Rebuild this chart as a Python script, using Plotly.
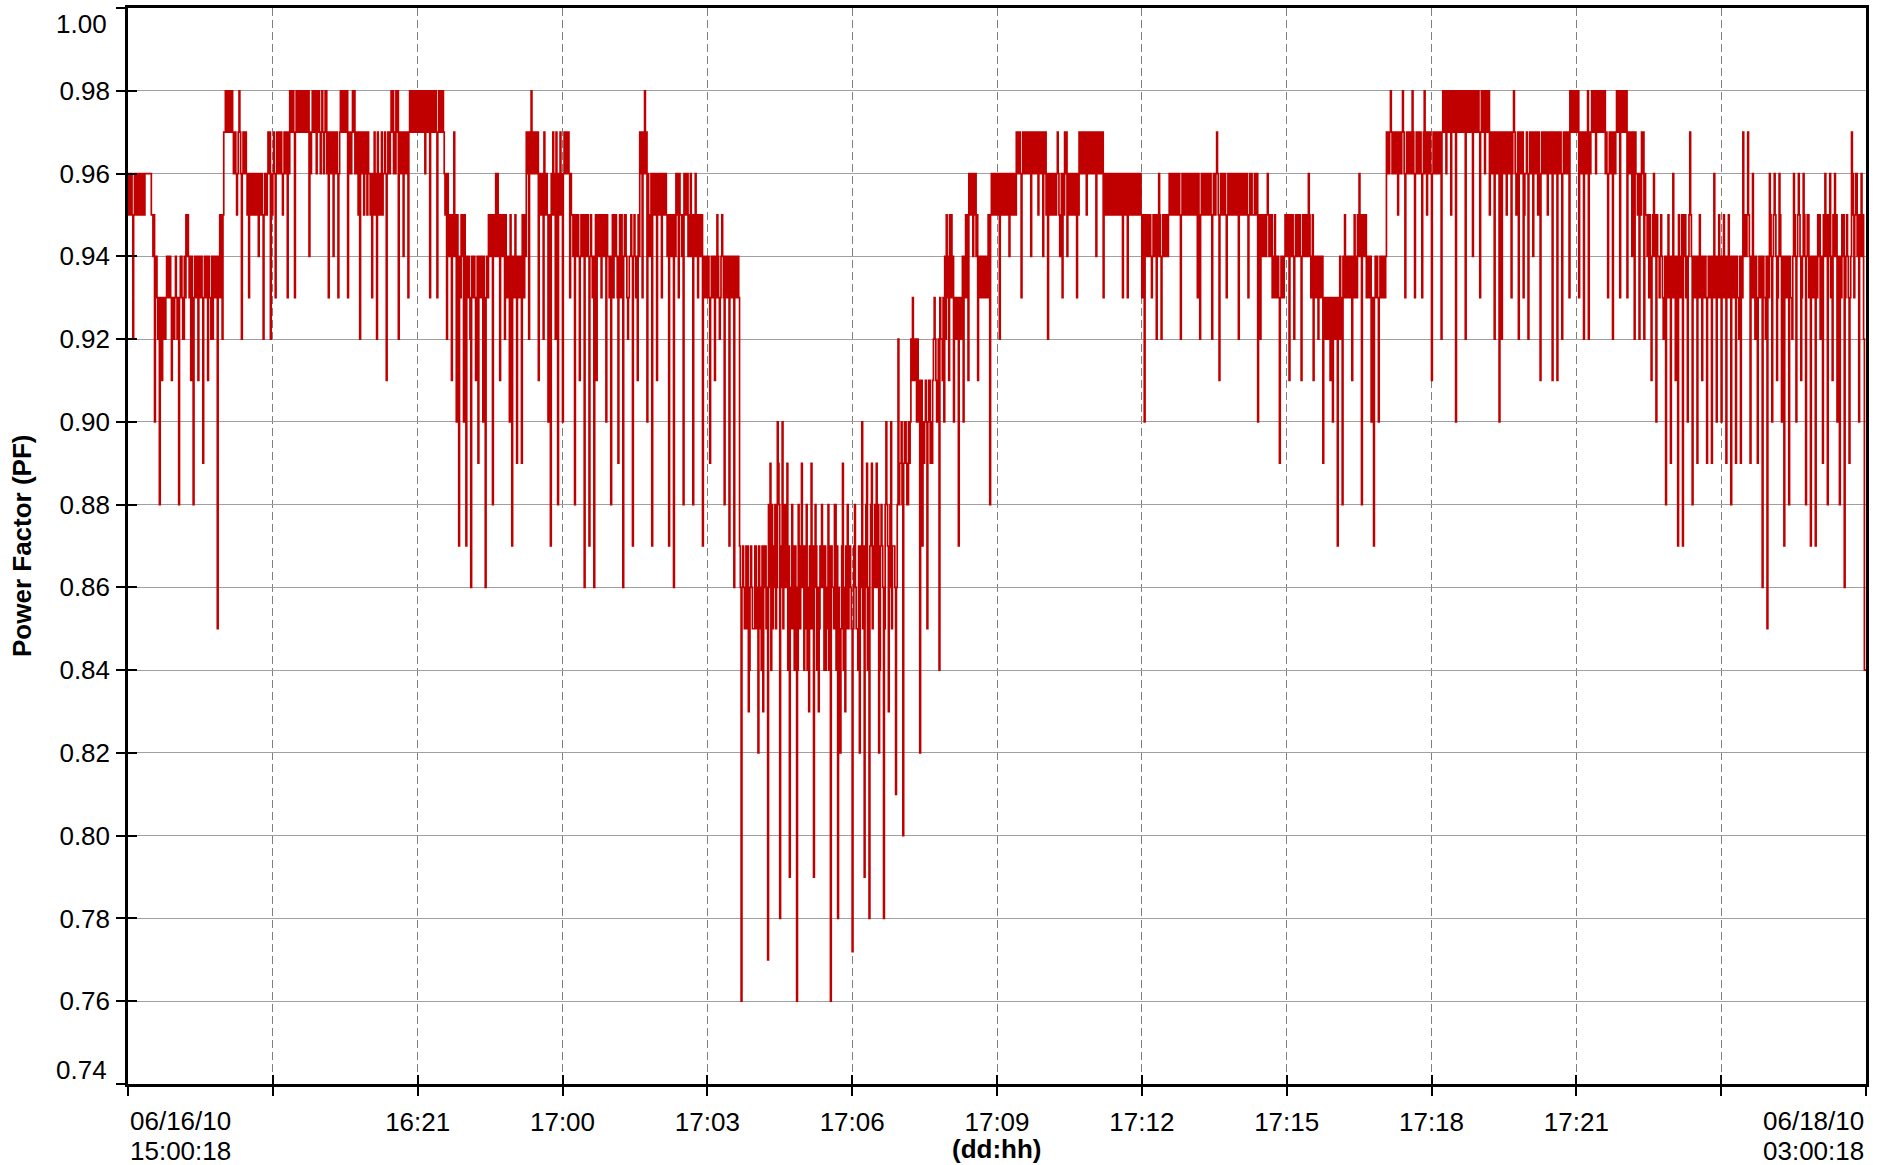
import pandas as pd
import plotly.graph_objects as go

# Power factor readings, one per minute, kept per 3-hour block.
# In every 3-minute slot: "a" = 1st reading, "b" = 2nd reading, "c" = 3rd reading.
pf_a01 = [.96,.95,.92,.96,.95,.96,.95,.96,.96,.96, .95,.90,.93,.88,.91,.93,.94,.93,.91,.92,
          .93,.88,.94,.92,.95,.94,.91,.88,.94,.91, .93,.89,.94,.91,.93,.92,.94,.85,.95,.92,
          .97,.98,.97,.98,.96,.95,.98,.92,.97,.96, .93,.96,.95,.96,.94,.95,.92,.96,.97,.92]
pf_b01 = [.95,.96,.95,.95,.96,.95,.96,.96,.96,.96, .94,.93,.92,.93,.93,.92,.93,.94,.93,.93,
          .92,.93,.93,.94,.94,.93,.94,.93,.93,.94, .94,.93,.93,.94,.92,.94,.93,.93,.93,.95,
          .98,.97,.98,.97,.97,.96,.97,.96,.96,.95, .96,.95,.96,.95,.96,.96,.95,.95,.96,.96]
pf_c01 = [.96,.95,.96,.96,.95,.96,.95,.96,.96,.95, .95,.94,.93,.92,.92,.93,.94,.93,.92,.94,
          .93,.94,.92,.93,.95,.94,.93,.94,.94,.93, .93,.94,.94,.93,.94,.93,.94,.94,.95,.97,
          .97,.98,.97,.96,.96,.97,.96,.97,.97,.96, .95,.96,.95,.96,.95,.95,.96,.96,.97,.95]

pf_a02 = [.96,.93,.97,.96,.95,.97,.93,.98,.97,.93, .98,.97,.98,.97,.98,.94,.97,.98,.96,.98,
          .97,.96,.98,.93,.97,.94,.96,.93,.98,.97, .98,.93,.97,.98,.96,.97,.92,.96,.97,.95,
          .96,.93,.97,.92,.95,.97,.96,.91,.97,.98, .96,.98,.92,.97,.94,.96,.93,.98,.97,.98]
pf_b02 = [.97,.96,.96,.97,.96,.96,.97,.97,.98,.97, .97,.98,.97,.98,.97,.97,.98,.97,.97,.97,
          .98,.97,.96,.97,.96,.97,.97,.96,.97,.98, .97,.97,.96,.97,.97,.95,.97,.97,.96,.97,
          .95,.96,.95,.97,.96,.95,.97,.96,.96,.97, .97,.97,.96,.96,.97,.97,.97,.97,.98,.97]
pf_c02 = [.96,.97,.97,.96,.97,.97,.96,.98,.97,.98, .98,.97,.98,.97,.98,.96,.97,.98,.98,.96,
          .97,.98,.97,.96,.97,.96,.96,.97,.98,.97, .98,.96,.97,.98,.96,.97,.96,.95,.97,.96,
          .96,.95,.96,.96,.95,.96,.96,.97,.97,.98, .96,.98,.97,.97,.96,.96,.98,.98,.97,.98]

pf_a03 = [.98,.97,.98,.96,.98,.93,.98,.97,.93,.98, .97,.96,.92,.95,.91,.97,.90,.87,.95,.90,
          .87,.94,.86,.93,.91,.89,.94,.90,.86,.93, .95,.88,.94,.96,.91,.95,.92,.94,.90,.87,
          .93,.89,.94,.89,.93,.97,.92,.98,.96,.97, .91,.96,.92,.95,.90,.87,.97,.92,.88,.97]
pf_b03 = [.97,.98,.97,.97,.97,.97,.97,.98,.97,.97, .98,.95,.96,.94,.95,.94,.95,.94,.94,.95,
          .93,.93,.94,.94,.93,.94,.93,.94,.93,.95, .94,.95,.96,.94,.95,.94,.95,.93,.95,.94,
          .95,.94,.93,.95,.95,.96,.97,.96,.97,.96, .96,.95,.97,.96,.95,.96,.95,.97,.96,.96]
pf_c03 = [.98,.97,.98,.98,.98,.98,.98,.97,.98,.98, .97,.96,.94,.95,.94,.95,.94,.93,.95,.94,
          .94,.92,.93,.93,.94,.93,.94,.93,.94,.94, .95,.94,.94,.95,.94,.95,.93,.94,.94,.93,
          .94,.93,.94,.94,.94,.97,.96,.97,.96,.97, .95,.96,.95,.95,.94,.95,.96,.96,.95,.95]

pf_a04 = [.90,.97,.96,.93,.95,.88,.94,.91,.95,.86, .94,.87,.94,.86,.91,.95,.93,.95,.90,.94,
          .88,.93,.95,.89,.93,.86,.95,.92,.94,.87, .94,.91,.97,.93,.98,.90,.94,.87,.96,.91,
          .96,.93,.96,.95,.87,.95,.86,.96,.93,.95, .88,.96,.94,.96,.88,.96,.93,.95,.87,.94]
pf_b04 = [.96,.96,.97,.96,.94,.95,.95,.94,.94,.95, .95,.94,.93,.94,.95,.94,.95,.94,.95,.93,
          .94,.95,.94,.94,.95,.94,.94,.93,.95,.94, .93,.95,.96,.97,.96,.96,.95,.96,.95,.96,
          .95,.96,.95,.94,.95,.94,.95,.95,.96,.94, .96,.95,.95,.94,.95,.94,.95,.94,.93,.93]
pf_c04 = [.97,.97,.96,.95,.95,.94,.94,.95,.95,.94, .94,.95,.94,.95,.94,.95,.94,.95,.94,.94,
          .95,.94,.93,.95,.94,.95,.93,.94,.94,.95, .94,.94,.97,.96,.97,.95,.96,.95,.96,.95,
          .96,.95,.96,.95,.94,.95,.94,.96,.95,.95, .95,.96,.94,.95,.94,.95,.94,.95,.94,.94]

pf_a05 = [.93,.89,.94,.91,.95,.92,.95,.88,.94,.87, .94,.86,.94,.93,.76,.86,.87,.83,.87,.85,
          .87,.82,.86,.83,.87,.77,.89,.85,.88,.90, .78,.90,.86,.89,.79,.88,.84,.76,.87,.89,
          .84,.88,.83,.89,.79,.87,.83,.86,.87,.84, .88,.76,.86,.88,.78,.82,.89,.83,.88,.87]
pf_b05 = [.94,.93,.93,.94,.94,.93,.94,.94,.93,.94, .93,.94,.93,.87,.86,.85,.85,.84,.86,.85,
          .85,.87,.84,.86,.85,.88,.84,.86,.85,.89, .86,.85,.88,.84,.86,.85,.87,.84,.85,.86,
          .85,.84,.87,.85,.86,.84,.85,.88,.84,.85, .84,.87,.85,.84,.86,.85,.84,.87,.85,.86]
pf_c05 = [.93,.94,.94,.93,.93,.94,.93,.93,.94,.93, .94,.93,.94,.86,.87,.86,.87,.86,.85,.87,
          .86,.85,.87,.87,.86,.86,.88,.87,.86,.88, .87,.88,.86,.87,.85,.87,.86,.88,.86,.87,
          .87,.86,.85,.87,.88,.86,.87,.86,.87,.86, .87,.86,.88,.87,.85,.87,.86,.85,.87,.85]

pf_a06 = [.772,.88,.85,.82,.90,.79,.89,.78,.89,.86, .89,.82,.88,.78,.90,.83,.90,.87,.81,.92,
          .89,.80,.90,.88,.90,.93,.91,.92,.82,.87, .90,.85,.91,.89,.93,.90,.84,.92,.90,.95,
          .91,.95,.90,.93,.87,.93,.90,.95,.91,.96, .94,.96,.91,.94,.93,.94,.93,.88,.95,.96]
pf_b06 = [.85,.86,.84,.87,.85,.86,.84,.87,.85,.88, .86,.84,.87,.85,.88,.86,.85,.87,.86,.88,
          .90,.89,.89,.90,.92,.91,.92,.90,.89,.90, .91,.90,.89,.91,.92,.91,.93,.91,.94,.93,
          .95,.93,.93,.92,.93,.92,.94,.93,.96,.95, .96,.94,.94,.93,.94,.93,.95,.95,.96,.95]
pf_c06 = [.87,.85,.87,.86,.87,.88,.86,.88,.87,.86, .88,.87,.86,.88,.87,.88,.87,.86,.88,.89,
          .88,.90,.88,.89,.91,.92,.90,.91,.91,.89, .90,.91,.90,.92,.91,.92,.92,.93,.92,.94,
          .93,.94,.92,.93,.92,.94,.93,.95,.95,.96, .95,.95,.93,.94,.93,.94,.94,.96,.95,.96]

pf_a07 = [.96,.92,.96,.95,.96,.94,.96,.95,.97,.96, .93,.97,.96,.97,.94,.96,.97,.95,.97,.94,
          .97,.92,.96,.95,.96,.97,.94,.93,.97,.94, .96,.95,.96,.93,.97,.96,.97,.95,.97,.96,
          .97,.94,.96,.97,.93,.96,.95,.96,.95,.96, .95,.96,.93,.96,.93,.95,.96,.95,.96,.95]
pf_b07 = [.95,.96,.95,.96,.95,.96,.95,.96,.96,.97, .96,.96,.97,.96,.96,.97,.96,.96,.96,.96,
          .95,.96,.95,.96,.95,.96,.95,.96,.96,.96, .95,.96,.95,.96,.96,.97,.96,.97,.96,.97,
          .96,.96,.97,.96,.96,.95,.96,.95,.96,.95, .96,.95,.96,.95,.96,.96,.95,.96,.95,.96]
pf_c07 = [.96,.95,.96,.95,.96,.95,.96,.95,.97,.96, .97,.97,.96,.97,.97,.96,.97,.97,.97,.97,
          .96,.95,.96,.95,.96,.95,.96,.95,.97,.95, .96,.95,.96,.95,.97,.96,.97,.96,.97,.96,
          .97,.97,.96,.97,.95,.96,.95,.96,.95,.96, .95,.96,.95,.96,.95,.95,.96,.95,.96,.95]

pf_a08 = [.93,.90,.95,.94,.93,.95,.92,.96,.92,.95, .94,.95,.96,.95,.96,.95,.92,.96,.95,.96,
          .95,.96,.95,.93,.92,.96,.95,.96,.95,.92, .96,.97,.91,.96,.95,.93,.95,.96,.95,.96,
          .92,.95,.96,.95,.93,.95,.95,.95,.90,.92, .94,.95,.96,.95,.93,.95,.93,.89,.93,.94]
pf_b08 = [.94,.95,.94,.95,.94,.94,.95,.95,.94,.94, .95,.96,.95,.96,.95,.96,.95,.95,.96,.95,
          .96,.95,.96,.96,.95,.95,.96,.95,.96,.95, .95,.96,.95,.95,.96,.95,.96,.95,.96,.95,
          .95,.96,.95,.96,.95,.96,.95,.95,.95,.95, .95,.94,.95,.94,.94,.93,.94,.93,.94,.95]
pf_c08 = [.95,.94,.95,.94,.95,.95,.94,.94,.95,.95, .94,.95,.96,.95,.96,.95,.96,.96,.95,.96,
          .95,.96,.95,.95,.96,.96,.95,.96,.95,.96, .96,.95,.96,.96,.95,.96,.95,.96,.95,.96,
          .96,.95,.96,.95,.96,.95,.96,.96,.94,.94, .94,.95,.94,.95,.93,.94,.93,.94,.93,.94]

pf_a09 = [.95,.91,.94,.92,.95,.94,.91,.95,.94,.96, .93,.91,.94,.92,.94,.89,.93,.92,.91,.90,
          .93,.87,.94,.88,.95,.93,.94,.91,.95,.93, .96,.88,.95,.93,.94,.90,.87,.93,.90,.94,
          .93,.94,.97,.98,.96,.97,.95,.97,.98,.93, .97,.96,.98,.93,.97,.96,.93,.98,.95,.96]
pf_b09 = [.94,.95,.95,.94,.94,.95,.94,.94,.95,.95, .94,.94,.93,.94,.93,.93,.92,.93,.93,.93,
          .92,.93,.93,.94,.93,.94,.93,.94,.94,.95, .94,.95,.94,.94,.93,.93,.93,.94,.93,.93,
          .94,.97,.96,.97,.97,.96,.97,.96,.97,.96, .96,.97,.97,.96,.96,.97,.96,.96,.97,.97]
pf_c09 = [.95,.94,.94,.95,.95,.94,.95,.95,.94,.94, .95,.93,.94,.93,.94,.92,.93,.92,.92,.92,
          .93,.92,.92,.93,.94,.93,.94,.93,.93,.94, .95,.94,.95,.93,.94,.92,.94,.93,.94,.94,
          .93,.96,.97,.96,.96,.97,.96,.97,.96,.97, .97,.96,.96,.97,.97,.96,.97,.97,.96,.96]

pf_a10 = [.91,.97,.96,.97,.92,.98,.96,.98,.95,.98, .90,.98,.97,.98,.92,.98,.97,.94,.98,.97,
          .93,.98,.96,.98,.95,.97,.92,.97,.90,.92, .97,.95,.97,.93,.98,.95,.92,.97,.93,.96,
          .92,.97,.94,.97,.95,.91,.96,.97,.95,.97, .91,.97,.91,.96,.92,.97,.96,.93,.98,.97]
pf_b10 = [.96,.96,.97,.96,.97,.97,.98,.97,.97,.97, .98,.97,.98,.97,.98,.97,.98,.98,.97,.98,
          .97,.97,.97,.97,.96,.96,.97,.96,.96,.96, .96,.97,.96,.96,.97,.96,.96,.96,.95,.97,
          .96,.96,.97,.96,.97,.96,.97,.96,.97,.96, .97,.96,.97,.97,.96,.96,.97,.98,.97,.98]
pf_c10 = [.97,.97,.96,.97,.98,.98,.97,.98,.98,.98, .97,.98,.97,.98,.97,.98,.97,.97,.98,.97,
          .98,.98,.98,.98,.97,.97,.96,.97,.97,.97, .97,.96,.97,.97,.96,.97,.97,.97,.96,.96,
          .97,.97,.96,.97,.96,.97,.96,.97,.96,.97, .96,.97,.96,.96,.97,.97,.96,.97,.98,.97]

pf_a11 = [.98,.93,.97,.92,.96,.92,.97,.98,.96,.98, .97,.98,.96,.93,.97,.92,.96,.98,.93,.97,
          .98,.93,.97,.94,.92,.96,.92,.97,.92,.95, .93,.91,.96,.90,.94,.95,.92,.88,.95,.89,
          .96,.91,.87,.93,.87,.95,.90,.97,.88,.94, .89,.95,.91,.93,.89,.94,.89,.96,.90,.95]
pf_b11 = [.97,.97,.96,.97,.97,.97,.98,.97,.98,.97, .98,.97,.97,.96,.96,.97,.97,.97,.98,.98,
          .97,.97,.96,.96,.97,.95,.96,.96,.96,.94, .95,.94,.94,.95,.93,.94,.93,.94,.93,.94,
          .93,.94,.95,.94,.95,.93,.94,.95,.94,.93, .94,.93,.94,.94,.93,.93,.94,.93,.94,.93]
pf_c11 = [.98,.96,.97,.96,.98,.96,.97,.98,.97,.98, .97,.98,.96,.97,.97,.96,.98,.98,.97,.97,
          .98,.96,.97,.97,.96,.96,.95,.97,.95,.95, .94,.95,.95,.94,.94,.93,.94,.93,.94,.93,
          .94,.93,.94,.95,.94,.94,.95,.94,.93,.94, .93,.94,.93,.93,.94,.94,.93,.94,.93,.94]

pf_a12 = [.90,.95,.89,.95,.88,.94,.89,.93,.89,.97, .95,.97,.89,.96,.92,.89,.94,.86,.93,.85,
          .96,.90,.96,.91,.96,.90,.87,.94,.88,.93, .96,.90,.96,.91,.96,.88,.95,.87,.94,.87,
          .95,.92,.89,.96,.88,.96,.91,.96,.90,.88, .95,.86,.95,.89,.97,.93,.96,.90,.96,.92]
pf_b12 = [.94,.93,.94,.93,.94,.93,.94,.92,.94,.95, .94,.95,.94,.93,.94,.93,.93,.94,.92,.94,
          .95,.94,.95,.93,.95,.93,.94,.93,.94,.92, .95,.94,.95,.93,.95,.94,.93,.94,.93,.94,
          .94,.93,.95,.94,.95,.93,.95,.94,.93,.94, .94,.93,.94,.93,.96,.95,.94,.95,.94,.84]
pf_c12 = [.93,.94,.93,.94,.93,.94,.93,.94,.93,.94, .95,.94,.93,.94,.93,.94,.94,.93,.94,.93,
          .94,.95,.94,.94,.94,.94,.93,.94,.93,.94, .94,.95,.94,.94,.94,.95,.94,.93,.94,.93,
          .95,.94,.94,.95,.94,.94,.94,.95,.94,.93, .95,.94,.93,.94,.95,.96,.95,.94,.95,.84]
pf_last = [.84]

blocks = [(pf_a01, pf_b01, pf_c01), (pf_a02, pf_b02, pf_c02), (pf_a03, pf_b03, pf_c03),
          (pf_a04, pf_b04, pf_c04), (pf_a05, pf_b05, pf_c05), (pf_a06, pf_b06, pf_c06),
          (pf_a07, pf_b07, pf_c07), (pf_a08, pf_b08, pf_c08), (pf_a09, pf_b09, pf_c09),
          (pf_a10, pf_b10, pf_c10), (pf_a11, pf_b11, pf_c11), (pf_a12, pf_b12, pf_c12)]
pf = []
for blk_a, blk_b, blk_c in blocks:
    for va, vb, vc in zip(blk_a, blk_b, blk_c):
        pf.extend([va, vb, vc])
pf += pf_last

start = pd.Timestamp("2010-06-16 15:00:18")
end = pd.Timestamp("2010-06-18 03:00:18")
times = pd.date_range(start, periods=len(pf), freq="60s")

tick_times = pd.date_range(start, end, freq="3h")
tick_labels = ["", "", "16:21", "17:00", "17:03", "17:06", "17:09", "17:12",
               "17:15", "17:18", "17:21", "", ""]
y_ticks = [0.74, 0.76, 0.78, 0.80, 0.82, 0.84, 0.86, 0.88, 0.90, 0.92, 0.94, 0.96, 0.98, 1.00]
y_labels = [""] + ["%.2f" % v for v in y_ticks[1:-1]] + [""]

FONT = "Liberation Sans, Arial, sans-serif"

fig = go.Figure()
fig.add_trace(go.Scatter(x=times, y=pf, mode="lines",
                         line=dict(color="#C00000", width=1.7, shape="hv"),
                         showlegend=False, hoverinfo="skip"))
fig.add_trace(go.Scatter(x=[], y=[], xaxis="x2", yaxis="y2", showlegend=False))

fig.update_layout(
    width=1877, height=1165,
    margin=dict(l=128, r=11, t=5, b=81),
    paper_bgcolor="white", plot_bgcolor="white",
    font=dict(family=FONT, size=26, color="#000000"),
    xaxis=dict(type="date", range=[start, end], tickvals=tick_times, ticktext=tick_labels,
               showgrid=True, gridcolor="#7f7f7f", gridwidth=1.2, griddash="8px,4px",
               showline=True, linecolor="#000000", linewidth=2.5, mirror=True,
               ticks="outside", ticklen=9, tickwidth=1.5, tickcolor="#000000",
               tickfont=dict(size=26), zeroline=False, ticklabelstandoff=4),
    yaxis=dict(range=[0.74, 1.00], tickvals=y_ticks, ticktext=y_labels,
               showgrid=True, gridcolor="#a0a0a0", gridwidth=1,
               showline=True, linecolor="#000000", linewidth=2.5, mirror=True,
               ticks="outside", ticklen=9, tickwidth=1.5, tickcolor="#000000",
               tickfont=dict(size=26), zeroline=False, ticklabelstandoff=1),
    xaxis2=dict(type="date", overlaying="x", matches="x", anchor="y", side="bottom",
                range=[start, end], tickvals=tick_times, ticks="inside", ticklen=9,
                tickwidth=1.5, tickcolor="#000000", showticklabels=False,
                showgrid=False, showline=False, zeroline=False),
    yaxis2=dict(overlaying="y", matches="y", anchor="x", side="left", range=[0.74, 1.00],
                tickvals=y_ticks, ticks="inside", ticklen=9, tickwidth=1.5,
                tickcolor="#000000", showticklabels=False, showgrid=False,
                showline=False, zeroline=False),
)

# end tick labels of the y axis sit inside the frame, as in the original
fig.add_annotation(x=0, y=y_ticks[-1], xref="paper", yref="y", xanchor="right", yanchor="middle",
                   xshift=-19, yshift=-16, text="%.2f" % y_ticks[-1], showarrow=False,
                   font=dict(size=26))
fig.add_annotation(x=0, y=y_ticks[0], xref="paper", yref="y", xanchor="right", yanchor="middle",
                   xshift=-19, yshift=14, text="%.2f" % y_ticks[0], showarrow=False,
                   font=dict(size=26))

# edge tick labels (left / right aligned) and axis titles
fig.add_annotation(x=start, y=0, xref="x", yref="paper", yanchor="top", xanchor="left",
                   yshift=-20, text="06/16/10", showarrow=False, font=dict(size=26))
fig.add_annotation(x=start, y=0, xref="x", yref="paper", yanchor="top", xanchor="left",
                   yshift=-50, text="15:00:18", showarrow=False, font=dict(size=26))
fig.add_annotation(x=end, y=0, xref="x", yref="paper", yanchor="top", xanchor="right",
                   yshift=-20, text="06/18/10", showarrow=False, font=dict(size=26))
fig.add_annotation(x=end, y=0, xref="x", yref="paper", yanchor="top", xanchor="right",
                   yshift=-50, text="03:00:18", showarrow=False, font=dict(size=26))
fig.add_annotation(x=0.5, y=0, xref="paper", yref="paper", yanchor="middle", xanchor="center",
                   yshift=-65, text="<b>(dd:hh)</b>", showarrow=False, font=dict(size=26))
fig.add_annotation(x=0, y=0.5, xref="paper", yref="paper", xanchor="center", yanchor="middle",
                   xshift=-106, textangle=-90, text="<b>Power Factor (PF)</b>",
                   showarrow=False, font=dict(size=26))

fig.write_html("out.html", config={"displayModeBar": False},
               post_script="document.body.style.margin='0px';")
